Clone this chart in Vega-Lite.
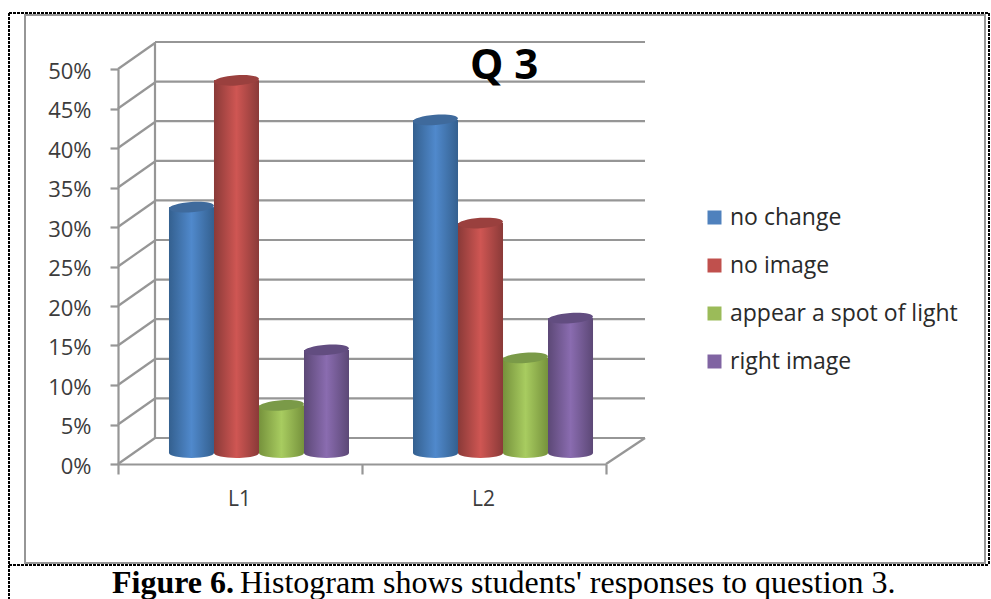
{
"$schema":"https://vega.github.io/schema/vega-lite/v6.json",
"width":991,"height":599,"padding":0,"autosize":"none","background":"white",
"title":{"text":"Q 3","font":"Open Sans","fontSize":42,"fontWeight":"bold","color":"#000000","anchor":"start","frame":"group","dx":470,"dy":88,"offset":0},
"datasets":{
"bars":[
{"cat":"L1","series":"no change","value":31},{"cat":"L1","series":"no image","value":47},{"cat":"L1","series":"appear a spot of light","value":6},{"cat":"L1","series":"right image","value":13},
{"cat":"L2","series":"no change","value":42},{"cat":"L2","series":"no image","value":29},{"cat":"L2","series":"appear a spot of light","value":12},{"cat":"L2","series":"right image","value":17}],
"levels":[{"level":0,"back":3.29},{"level":5,"back":8.29},{"level":10,"back":13.29},{"level":15,"back":18.29},{"level":20,"back":23.29},{"level":25,"back":28.29},{"level":30,"back":33.29},{"level":35,"back":38.29},{"level":40,"back":43.29},{"level":45,"back":48.29},{"level":50,"back":53.29}],
"floor":[{"level":0,"back":3.29}],
"dashed":[{"x0":9,"x1":989,"y0":13,"y1":13},{"x0":9,"x1":989,"y0":565,"y1":565},{"x0":9,"x1":9,"y0":13,"y1":599},{"x0":989,"x1":989,"y0":13,"y1":565}],
"panel":[{"x0":25,"x1":985,"y0":15,"y1":563}],
"capBold":[{"t":"Figure 6.","px":112,"py":593}],
"capRest":[{"t":"Histogram shows students' responses to question 3.","px":240,"py":593}]
},
"layer":[
{"data":{"name":"panel"},"mark":{"type":"rect","fill":"transparent","stroke":"#969696","strokeWidth":2},
 "encoding":{"x":{"field":"x0","type":"quantitative","scale":{"domain":[0,991],"range":[0,991]},"axis":null},"x2":{"field":"x1"},
 "y":{"field":"y0","type":"quantitative","scale":{"domain":[0,599],"range":[0,599]},"axis":null},"y2":{"field":"y1"}}},
{"data":{"name":"dashed"},"mark":{"type":"rule","stroke":"#000000","strokeWidth":2,"strokeDash":[3,1]},
 "encoding":{"x":{"field":"x0","type":"quantitative","scale":{"domain":[0,991],"range":[0,991]},"axis":null},"x2":{"field":"x1"},
 "y":{"field":"y0","type":"quantitative","scale":{"domain":[0,599],"range":[0,599]},"axis":null},"y2":{"field":"y1"}}},
{"data":{"name":"levels"},"mark":{"type":"rule","stroke":"#969696","strokeWidth":2.2},
 "encoding":{"x":{"datum":0,"type":"quantitative","scale":{"domain":[0,1],"range":[155,645]},"axis":null},"x2":{"datum":1},
 "y":{"field":"level","type":"quantitative","scale":{"domain":[0,50],"range":[438,42]},"axis":null}}},
{"data":{"name":"floor"},"mark":{"type":"rule","stroke":"#969696","strokeWidth":2.2},
 "encoding":{"x":{"datum":0,"type":"quantitative","scale":{"domain":[0,1],"range":[155,155]},"axis":null},
 "y":{"field":"level","type":"quantitative","scale":{"domain":[0,50],"range":[438,42]},"axis":null},"y2":{"datum":50}}},
{"data":{"name":"levels"},"mark":{"type":"rule","stroke":"#969696","strokeWidth":2.2},
 "encoding":{"x":{"datum":0,"type":"quantitative","scale":{"domain":[0,1],"range":[118,155]},"axis":null},"x2":{"datum":1},
 "y":{"field":"level","type":"quantitative","scale":{"domain":[0,50],"range":[464,69]},
 "axis":{"orient":"left","offset":-118,"values":[0,5,10,15,20,25,30,35,40,45,50],"labelExpr":"datum.value + '%'","grid":false,"title":null,"domainColor":"#969696","domainWidth":2.2,"tickColor":"#969696","tickWidth":2.2,"tickSize":8,"labelFont":"Open Sans","labelFontSize":22,"labelColor":"#3c3c3c","labelPadding":19,"labelOffset":2}},"y2":{"field":"back"}}},
{"data":{"name":"floor"},"mark":{"type":"rule","stroke":"#969696","strokeWidth":2.2},
 "encoding":{"x":{"datum":0,"type":"quantitative","scale":{"domain":[0,1],"range":[606,645]},"axis":null},"x2":{"datum":1},
 "y":{"field":"level","type":"quantitative","scale":{"domain":[0,50],"range":[464,69]},"axis":null},"y2":{"field":"back"}}},
{"data":{"name":"bars"},"mark":{"type":"tick","opacity":0},
 "encoding":{"x":{"field":"cat","type":"nominal","scale":{"range":[118,606],"paddingInner":0,"paddingOuter":0},
 "axis":{"orient":"bottom","offset":-135,"tickBand":"extent","title":null,"labelAngle":0,"domainColor":"#969696","domainWidth":2.2,"tickColor":"#969696","tickWidth":2.2,"tickSize":10,"labelFont":"Open Sans","labelFontSize":21,"labelColor":"#3c3c3c","labelPadding":14,"labelOffset":-1}},
 "y":{"datum":0,"type":"quantitative","scale":{"domain":[0,50],"range":[464,69]},"axis":null}}},
{"data":{"name":"bars"},"transform":[{"filter":"datum.series==='no change'"}],"mark":{"type":"point","filled":true,"size":2025,"opacity":1,"shape":"M-1,0A1,0.22,0,1,0,1,0A1,0.22,0,1,0,-1,0Z","fill":{"gradient":"linear","x1":0,"x2":1,"y1":0,"y2":0,"stops":[{"offset":0,"color":"#34608f"},{"offset":0.5,"color":"#5089cc"},{"offset":1,"color":"#34608f"}]}},
 "encoding":{"x":{"field":"cat","type":"nominal","scale":{"domain":["L1","L2"],"range":[137,625],"paddingInner":0.2623,"paddingOuter":0.1311},"axis":null},"xOffset":{"field":"series","type":"nominal","scale":{"domain":["no change","no image","appear a spot of light","right image"]}},"y":{"datum":0,"type":"quantitative","scale":{"domain":[0,50],"range":[453,56.5]},"axis":null}}},
{"data":{"name":"bars"},"transform":[{"filter":"datum.series==='no image'"}],"mark":{"type":"point","filled":true,"size":2025,"opacity":1,"shape":"M-1,0A1,0.22,0,1,0,1,0A1,0.22,0,1,0,-1,0Z","fill":{"gradient":"linear","x1":0,"x2":1,"y1":0,"y2":0,"stops":[{"offset":0,"color":"#8a3a38"},{"offset":0.5,"color":"#cf5653"},{"offset":1,"color":"#8a3a38"}]}},
 "encoding":{"x":{"field":"cat","type":"nominal","scale":{"domain":["L1","L2"],"range":[137,625],"paddingInner":0.2623,"paddingOuter":0.1311},"axis":null},"xOffset":{"field":"series","type":"nominal","scale":{"domain":["no change","no image","appear a spot of light","right image"]}},"y":{"datum":0,"type":"quantitative","scale":{"domain":[0,50],"range":[453,56.5]},"axis":null}}},
{"data":{"name":"bars"},"transform":[{"filter":"datum.series==='appear a spot of light'"}],"mark":{"type":"point","filled":true,"size":2025,"opacity":1,"shape":"M-1,0A1,0.22,0,1,0,1,0A1,0.22,0,1,0,-1,0Z","fill":{"gradient":"linear","x1":0,"x2":1,"y1":0,"y2":0,"stops":[{"offset":0,"color":"#76923c"},{"offset":0.5,"color":"#a8cc60"},{"offset":1,"color":"#76923c"}]}},
 "encoding":{"x":{"field":"cat","type":"nominal","scale":{"domain":["L1","L2"],"range":[137,625],"paddingInner":0.2623,"paddingOuter":0.1311},"axis":null},"xOffset":{"field":"series","type":"nominal","scale":{"domain":["no change","no image","appear a spot of light","right image"]}},"y":{"datum":0,"type":"quantitative","scale":{"domain":[0,50],"range":[453,56.5]},"axis":null}}},
{"data":{"name":"bars"},"transform":[{"filter":"datum.series==='right image'"}],"mark":{"type":"point","filled":true,"size":2025,"opacity":1,"shape":"M-1,0A1,0.22,0,1,0,1,0A1,0.22,0,1,0,-1,0Z","fill":{"gradient":"linear","x1":0,"x2":1,"y1":0,"y2":0,"stops":[{"offset":0,"color":"#5c4876"},{"offset":0.5,"color":"#8a6cb0"},{"offset":1,"color":"#5c4876"}]}},
 "encoding":{"x":{"field":"cat","type":"nominal","scale":{"domain":["L1","L2"],"range":[137,625],"paddingInner":0.2623,"paddingOuter":0.1311},"axis":null},"xOffset":{"field":"series","type":"nominal","scale":{"domain":["no change","no image","appear a spot of light","right image"]}},"y":{"datum":0,"type":"quantitative","scale":{"domain":[0,50],"range":[453,56.5]},"axis":null}}},
{"data":{"name":"bars"},"mark":{"type":"bar"},
 "encoding":{"x":{"field":"cat","type":"nominal","scale":{"domain":["L1","L2"],"range":[137,625],"paddingInner":0.2623,"paddingOuter":0.1311},"axis":null},
 "xOffset":{"field":"series","type":"nominal","scale":{"domain":["no change","no image","appear a spot of light","right image"]}},
 "y":{"field":"value","type":"quantitative","scale":{"domain":[0,50],"range":[453,56.5]},"axis":null},
 "fill":{"field":"series","type":"nominal","scale":{"domain":["no change","no image","appear a spot of light","right image"],"range":["#4f81bd","#c0504d","#9bbb59","#8064a2"]},
 "legend":{"orient":"none","legendX":703,"legendY":206,"title":null,"symbolType":"square","symbolSize":196,"symbolStrokeWidth":0,"labelFont":"Open Sans","labelFontSize":23,"labelColor":"#2a2a2a","labelLimit":400,"rowPadding":24,"labelOffset":4,"symbolOpacity":1}}}},
{"data":{"name":"bars"},"transform":[{"filter":"datum.series==='no change'"}],"mark":{"type":"bar","fill":{"gradient":"linear","x1":0,"x2":1,"y1":0,"y2":0,"stops":[{"offset":0,"color":"#34608f"},{"offset":0.5,"color":"#5089cc"},{"offset":1,"color":"#34608f"}]}},
 "encoding":{"x":{"field":"cat","type":"nominal","scale":{"domain":["L1","L2"],"range":[137,625],"paddingInner":0.2623,"paddingOuter":0.1311},"axis":null},"xOffset":{"field":"series","type":"nominal","scale":{"domain":["no change","no image","appear a spot of light","right image"]}},"y":{"field":"value","type":"quantitative","scale":{"domain":[0,50],"range":[453,56.5]},"axis":null}}},
{"data":{"name":"bars"},"transform":[{"filter":"datum.series==='no image'"}],"mark":{"type":"bar","fill":{"gradient":"linear","x1":0,"x2":1,"y1":0,"y2":0,"stops":[{"offset":0,"color":"#8a3a38"},{"offset":0.5,"color":"#cf5653"},{"offset":1,"color":"#8a3a38"}]}},
 "encoding":{"x":{"field":"cat","type":"nominal","scale":{"domain":["L1","L2"],"range":[137,625],"paddingInner":0.2623,"paddingOuter":0.1311},"axis":null},"xOffset":{"field":"series","type":"nominal","scale":{"domain":["no change","no image","appear a spot of light","right image"]}},"y":{"field":"value","type":"quantitative","scale":{"domain":[0,50],"range":[453,56.5]},"axis":null}}},
{"data":{"name":"bars"},"transform":[{"filter":"datum.series==='appear a spot of light'"}],"mark":{"type":"bar","fill":{"gradient":"linear","x1":0,"x2":1,"y1":0,"y2":0,"stops":[{"offset":0,"color":"#76923c"},{"offset":0.5,"color":"#a8cc60"},{"offset":1,"color":"#76923c"}]}},
 "encoding":{"x":{"field":"cat","type":"nominal","scale":{"domain":["L1","L2"],"range":[137,625],"paddingInner":0.2623,"paddingOuter":0.1311},"axis":null},"xOffset":{"field":"series","type":"nominal","scale":{"domain":["no change","no image","appear a spot of light","right image"]}},"y":{"field":"value","type":"quantitative","scale":{"domain":[0,50],"range":[453,56.5]},"axis":null}}},
{"data":{"name":"bars"},"transform":[{"filter":"datum.series==='right image'"}],"mark":{"type":"bar","fill":{"gradient":"linear","x1":0,"x2":1,"y1":0,"y2":0,"stops":[{"offset":0,"color":"#5c4876"},{"offset":0.5,"color":"#8a6cb0"},{"offset":1,"color":"#5c4876"}]}},
 "encoding":{"x":{"field":"cat","type":"nominal","scale":{"domain":["L1","L2"],"range":[137,625],"paddingInner":0.2623,"paddingOuter":0.1311},"axis":null},"xOffset":{"field":"series","type":"nominal","scale":{"domain":["no change","no image","appear a spot of light","right image"]}},"y":{"field":"value","type":"quantitative","scale":{"domain":[0,50],"range":[453,56.5]},"axis":null}}},
{"data":{"name":"bars"},"mark":{"type":"point","filled":true,"size":2025,"opacity":1,"shape":"M-0.998,0.07A1,0.23,-4,1,1,0.998,-0.07A1,0.23,-4,1,1,-0.998,0.07Z"},
 "encoding":{"x":{"field":"cat","type":"nominal","scale":{"domain":["L1","L2"],"range":[137,625],"paddingInner":0.2623,"paddingOuter":0.1311},"axis":null},
 "xOffset":{"field":"series","type":"nominal","scale":{"domain":["no change","no image","appear a spot of light","right image"]}},
 "y":{"field":"value","type":"quantitative","scale":{"domain":[0,50],"range":[453,56.5]},"axis":null},
 "fill":{"field":"series","type":"nominal","legend":null,"scale":{"domain":["no change","no image","appear a spot of light","right image"],"range":["#3f6a9c","#9a403e","#7a9a48","#624d80"]}}}},
{"data":{"name":"capBold"},"mark":{"type":"text","font":"Liberation Serif","fontSize":32,"fontWeight":"bold","align":"left","baseline":"alphabetic","color":"#000000"},
 "encoding":{"x":{"field":"px","type":"quantitative","scale":{"domain":[0,991],"range":[0,991]},"axis":null},
 "y":{"field":"py","type":"quantitative","scale":{"domain":[0,599],"range":[0,599]},"axis":null},"text":{"field":"t"}}},
{"data":{"name":"capRest"},"mark":{"type":"text","font":"Liberation Serif","fontSize":32,"align":"left","baseline":"alphabetic","color":"#000000"},
 "encoding":{"x":{"field":"px","type":"quantitative","scale":{"domain":[0,991],"range":[0,991]},"axis":null},
 "y":{"field":"py","type":"quantitative","scale":{"domain":[0,599],"range":[0,599]},"axis":null},"text":{"field":"t"}}}
],
"resolve":{"scale":{"x":"independent","y":"independent","fill":"independent","xOffset":"independent"},"axis":{"x":"independent","y":"independent"},"legend":{"fill":"independent"}},
"config":{"view":{"stroke":null}}
}
